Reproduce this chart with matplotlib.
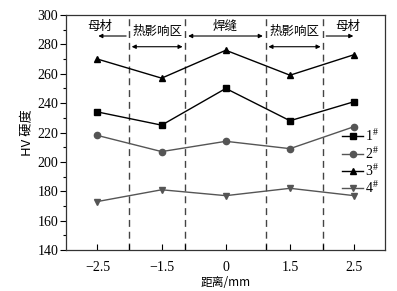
import matplotlib
matplotlib.use("Agg")
import matplotlib.pyplot as plt
from matplotlib.ticker import MultipleLocator

# ---- data ----
x_labels = ["\u22122.5", "\u22121.5", "0", "1.5", "2.5"]
s1 = [234, 225, 250, 228, 241]
s2 = [218, 207, 214, 209, 224]
s3 = [270, 257, 276, 259, 273]
s4 = [173, 181, 177, 182, 177]
series_names = ["1$^{\\#}$", "2$^{\\#}$", "3$^{\\#}$", "4$^{\\#}$"]
zone_bounds = [0.49, 1.37, 2.62, 3.52]
zone_labels = ["母材", "热影响区", "焊缝", "热影响区", "母材"]

cjk = ["Noto Sans CJK SC", "DejaVu Sans"]
serif = ["Liberation Serif", "DejaVu Serif"]
plt.rcParams['mathtext.fontset'] = 'custom'
plt.rcParams['mathtext.rm'] = 'Liberation Serif'

fig = plt.figure(figsize=(3.97, 2.91), dpi=100)
ax = fig.add_axes([66/397, 1 - 250/291, (385-66)/397, (250-15)/291])

xs = list(range(len(x_labels)))
ax.plot(xs, s1, color="black", lw=1, marker="s", ms=4.2, label=series_names[0])
ax.plot(xs, s2, color="#555555", lw=1, marker="o", ms=4.5, label=series_names[1])
ax.plot(xs, s3, color="black", lw=1, marker="^", ms=5, label=series_names[2])
ax.plot(xs, s4, color="#555555", lw=1, marker="v", ms=5, label=series_names[3])

for b in zone_bounds:
    ax.axvline(b, color="#444444", lw=1, ls=(0, (5, 3.5)), zorder=0)

ax.set_xlim(-0.49, 4.48)
ax.set_ylim(140, 300)
ax.yaxis.set_major_locator(MultipleLocator(20))
ax.yaxis.set_minor_locator(MultipleLocator(10))
ax.set_xticks(xs)
ax.set_xticklabels(x_labels, family=serif, fontsize=10)
ax.set_xticks(zone_bounds, minor=True)
for lab in ax.get_yticklabels():
    lab.set_family(serif)
    lab.set_fontsize(10)
ax.tick_params(axis="x", which="both", direction="in", length=4, width=0.8, pad=8)
ax.tick_params(axis="y", which="major", direction="out", length=4, width=0.8, pad=1.5)
ax.tick_params(axis="y", which="minor", direction="out", length=2, width=0.8)
for sp in ax.spines.values():
    sp.set_linewidth(0.9)
    sp.set_color("#333333")

ax.set_xlabel("距离/mm", family=cjk, fontsize=8.5, labelpad=1)
ax.set_ylabel("HV 硬度", family=cjk, fontsize=9.5, labelpad=2)

# zone annotations
text_x = [0.03, 0.93, 1.99, 3.07, 3.9]
text_y = [292.5, 288.5, 292.5, 288.5, 292.5]
arrow_y = [285.7, 278.4, 285.7, 278.4, 285.7]
ap = dict(arrowstyle="-|>", color="black", lw=0.8, mutation_scale=6)
ap2 = dict(arrowstyle="<|-|>", color="black", lw=0.8, mutation_scale=6)
for i, lab in enumerate(zone_labels):
    ax.text(text_x[i], text_y[i], lab, family=cjk, fontsize=9, ha="center", va="center")
ax.annotate("", xy=(-0.03, arrow_y[0]), xytext=(zone_bounds[0], arrow_y[0]), arrowprops=ap)
ax.annotate("", xy=(zone_bounds[0], arrow_y[1]), xytext=(zone_bounds[1], arrow_y[1]), arrowprops=ap2)
ax.annotate("", xy=(zone_bounds[1], arrow_y[2]), xytext=(zone_bounds[2], arrow_y[2]), arrowprops=ap2)
ax.annotate("", xy=(zone_bounds[2], arrow_y[3]), xytext=(zone_bounds[3], arrow_y[3]), arrowprops=ap2)
ax.annotate("", xy=(4.03, arrow_y[4]), xytext=(zone_bounds[3], arrow_y[4]), arrowprops=ap)

leg = ax.legend(loc="upper left", bbox_to_anchor=(0.845, 0.55), frameon=False,
                prop={"family": serif, "size": 10}, handlelength=1.5,
                handletextpad=0.1, labelspacing=0.05, borderpad=0)

fig.savefig("out.png", dpi=100)
